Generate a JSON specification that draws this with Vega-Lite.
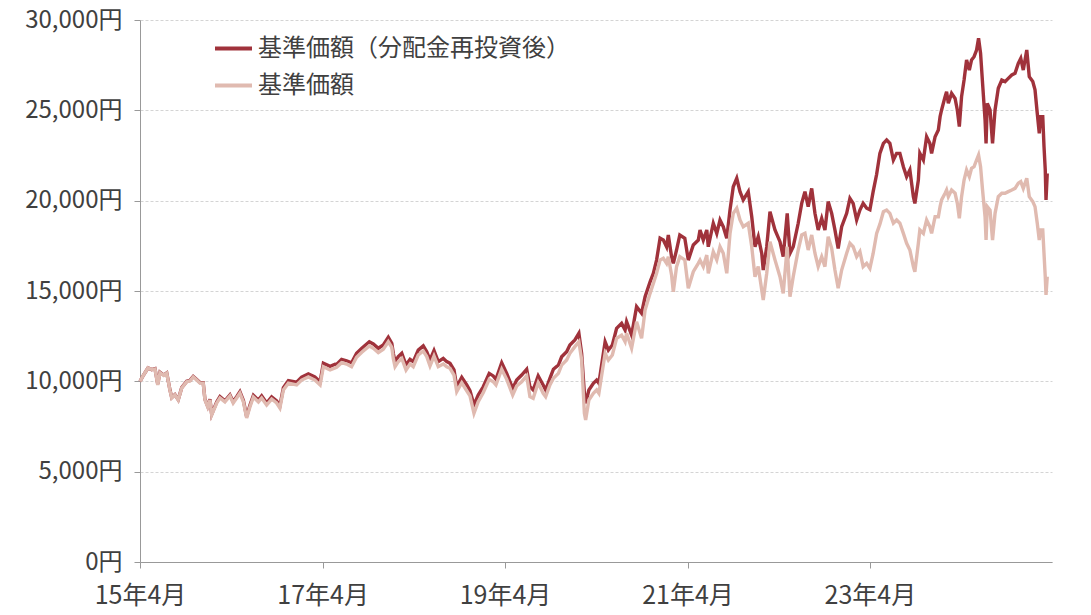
{
  "$schema": "https://vega.github.io/schema/vega-lite/v6.json",
  "width": 912,
  "height": 542,
  "autosize": {"type": "none"},
  "padding": {"left": 140, "top": 20, "right": 39, "bottom": 53},
  "background": "white",
  "config": {"view": {"stroke": null}, "font": "Noto Sans CJK JP"},
  "data": {"values": [
    {"d":"2015-04-01","a":10000,"b":10000},
    {"d":"2015-04-15","a":10350,"b":10350},
    {"d":"2015-05-03","a":10740,"b":10740},
    {"d":"2015-05-18","a":10650,"b":10650},
    {"d":"2015-05-31","a":10700,"b":10680},
    {"d":"2015-06-11","a":9850,"b":9800},
    {"d":"2015-06-20","a":10500,"b":10480},
    {"d":"2015-07-05","a":10350,"b":10330},
    {"d":"2015-07-17","a":10470,"b":10450},
    {"d":"2015-07-30","a":9520,"b":9500},
    {"d":"2015-08-06","a":9100,"b":9080},
    {"d":"2015-08-19","a":9270,"b":9250},
    {"d":"2015-09-01","a":8990,"b":8970},
    {"d":"2015-09-15","a":9650,"b":9630},
    {"d":"2015-10-05","a":10000,"b":9980},
    {"d":"2015-10-18","a":10050,"b":10020},
    {"d":"2015-10-31","a":10270,"b":10240},
    {"d":"2015-11-14","a":10100,"b":10070},
    {"d":"2015-11-27","a":9930,"b":9900},
    {"d":"2015-12-10","a":9930,"b":9900},
    {"d":"2015-12-17","a":9000,"b":8970},
    {"d":"2015-12-28","a":8620,"b":8580},
    {"d":"2016-01-06","a":9010,"b":8970},
    {"d":"2016-01-13","a":8180,"b":8140},
    {"d":"2016-02-02","a":8850,"b":8800},
    {"d":"2016-02-15","a":9150,"b":9080},
    {"d":"2016-03-06","a":8920,"b":8860},
    {"d":"2016-03-26","a":9250,"b":9190},
    {"d":"2016-04-08","a":8870,"b":8800},
    {"d":"2016-04-22","a":9150,"b":9080},
    {"d":"2016-05-05","a":9430,"b":9350},
    {"d":"2016-05-19","a":8940,"b":8860},
    {"d":"2016-06-01","a":8050,"b":7970},
    {"d":"2016-06-14","a":8670,"b":8580},
    {"d":"2016-06-28","a":9230,"b":9130},
    {"d":"2016-07-18","a":8960,"b":8860},
    {"d":"2016-07-31","a":9190,"b":9080},
    {"d":"2016-08-20","a":8800,"b":8690},
    {"d":"2016-09-09","a":9140,"b":9020},
    {"d":"2016-09-29","a":8920,"b":8800},
    {"d":"2016-10-12","a":8640,"b":8520},
    {"d":"2016-10-26","a":9650,"b":9520},
    {"d":"2016-11-15","a":10040,"b":9900},
    {"d":"2016-12-18","a":9950,"b":9800},
    {"d":"2017-01-07","a":10230,"b":10070},
    {"d":"2017-02-03","a":10410,"b":10240},
    {"d":"2017-03-01","a":10240,"b":10070},
    {"d":"2017-03-22","a":9980,"b":9800},
    {"d":"2017-04-04","a":11000,"b":10810},
    {"d":"2017-05-01","a":10830,"b":10630},
    {"d":"2017-05-21","a":10950,"b":10740},
    {"d":"2017-05-27","a":10940,"b":10780},
    {"d":"2017-06-16","a":11220,"b":11030},
    {"d":"2017-07-06","a":11140,"b":10960},
    {"d":"2017-07-26","a":11030,"b":10810},
    {"d":"2017-08-15","a":11550,"b":11330},
    {"d":"2017-09-05","a":11830,"b":11610},
    {"d":"2017-10-05","a":12190,"b":11960},
    {"d":"2017-10-21","a":12070,"b":11830},
    {"d":"2017-11-10","a":11830,"b":11590},
    {"d":"2017-11-30","a":12010,"b":11770},
    {"d":"2017-12-20","a":12440,"b":12190},
    {"d":"2018-01-03","a":12100,"b":11880},
    {"d":"2018-01-09","a":11550,"b":11270},
    {"d":"2018-01-16","a":11090,"b":10810},
    {"d":"2018-01-29","a":11370,"b":11090},
    {"d":"2018-02-12","a":11550,"b":11270},
    {"d":"2018-03-01","a":10900,"b":10630},
    {"d":"2018-03-17","a":11220,"b":10960},
    {"d":"2018-03-30","a":11090,"b":10810},
    {"d":"2018-04-19","a":11730,"b":11460},
    {"d":"2018-05-09","a":11960,"b":11680},
    {"d":"2018-05-23","a":11640,"b":11370},
    {"d":"2018-06-05","a":11180,"b":10850},
    {"d":"2018-06-21","a":11700,"b":11400},
    {"d":"2018-07-08","a":11090,"b":10810},
    {"d":"2018-07-28","a":11270,"b":10960},
    {"d":"2018-08-11","a":11090,"b":10810},
    {"d":"2018-08-24","a":11000,"b":10720},
    {"d":"2018-09-09","a":10630,"b":10350},
    {"d":"2018-09-20","a":9700,"b":9430},
    {"d":"2018-10-10","a":10220,"b":9920},
    {"d":"2018-10-30","a":9800,"b":9480},
    {"d":"2018-11-12","a":9480,"b":9190},
    {"d":"2018-11-28","a":8690,"b":8230},
    {"d":"2018-12-15","a":9240,"b":8870},
    {"d":"2019-01-04","a":9700,"b":9370},
    {"d":"2019-01-28","a":10440,"b":10110},
    {"d":"2019-02-13","a":10300,"b":9980},
    {"d":"2019-02-24","a":10110,"b":9800},
    {"d":"2019-03-19","a":11030,"b":10670},
    {"d":"2019-04-08","a":10440,"b":10110},
    {"d":"2019-05-02","a":9610,"b":9240},
    {"d":"2019-05-18","a":10070,"b":9740},
    {"d":"2019-06-07","a":10350,"b":9980},
    {"d":"2019-06-27","a":10670,"b":10300},
    {"d":"2019-07-10","a":9700,"b":9150},
    {"d":"2019-07-23","a":9520,"b":9060},
    {"d":"2019-08-12","a":10300,"b":9920},
    {"d":"2019-09-01","a":9800,"b":9340},
    {"d":"2019-09-11","a":9520,"b":9150},
    {"d":"2019-09-28","a":10170,"b":9800},
    {"d":"2019-10-12","a":10670,"b":10170},
    {"d":"2019-11-01","a":10900,"b":10440},
    {"d":"2019-11-14","a":11360,"b":10900},
    {"d":"2019-12-04","a":11640,"b":11180},
    {"d":"2019-12-17","a":12010,"b":11550},
    {"d":"2020-01-06","a":12290,"b":11920},
    {"d":"2020-01-22","a":12660,"b":12190},
    {"d":"2020-02-02","a":11550,"b":11180},
    {"d":"2020-02-13","a":9340,"b":8230},
    {"d":"2020-02-18","a":8780,"b":7860},
    {"d":"2020-03-02","a":9520,"b":8970},
    {"d":"2020-03-20","a":9890,"b":9340},
    {"d":"2020-04-02","a":10070,"b":9520},
    {"d":"2020-04-11","a":9890,"b":9340},
    {"d":"2020-05-06","a":12190,"b":11550},
    {"d":"2020-05-19","a":11730,"b":11180},
    {"d":"2020-06-04","a":12010,"b":11460},
    {"d":"2020-06-21","a":12930,"b":12380},
    {"d":"2020-07-11","a":13210,"b":12560},
    {"d":"2020-07-25","a":12840,"b":12200},
    {"d":"2020-07-31","a":13300,"b":12660},
    {"d":"2020-08-20","a":12560,"b":11830},
    {"d":"2020-09-09","a":14130,"b":13300},
    {"d":"2020-09-29","a":13770,"b":12380},
    {"d":"2020-10-13","a":14680,"b":13950},
    {"d":"2020-11-02","a":15510,"b":14870},
    {"d":"2020-11-15","a":15980,"b":15420},
    {"d":"2020-11-28","a":16710,"b":15980},
    {"d":"2020-12-12","a":17920,"b":16710},
    {"d":"2020-12-25","a":17820,"b":16810},
    {"d":"2021-01-07","a":17450,"b":16530},
    {"d":"2021-01-14","a":18100,"b":16900},
    {"d":"2021-01-27","a":16900,"b":15890},
    {"d":"2021-02-03","a":16530,"b":14960},
    {"d":"2021-02-16","a":17270,"b":16350},
    {"d":"2021-03-01","a":18100,"b":16900},
    {"d":"2021-03-21","a":17920,"b":16720},
    {"d":"2021-04-04","a":16710,"b":15150},
    {"d":"2021-04-24","a":17550,"b":16070},
    {"d":"2021-05-14","a":17820,"b":16530},
    {"d":"2021-05-21","a":18380,"b":16710},
    {"d":"2021-06-03","a":17820,"b":16350},
    {"d":"2021-06-17","a":18380,"b":16990},
    {"d":"2021-06-23","a":17450,"b":15980},
    {"d":"2021-07-13","a":18750,"b":17170},
    {"d":"2021-07-27","a":18190,"b":16720},
    {"d":"2021-08-09","a":18930,"b":17450},
    {"d":"2021-08-22","a":18560,"b":17090},
    {"d":"2021-09-05","a":17920,"b":15980},
    {"d":"2021-09-18","a":19490,"b":18190},
    {"d":"2021-10-01","a":20770,"b":19300},
    {"d":"2021-10-15","a":21240,"b":19580},
    {"d":"2021-10-28","a":20500,"b":18930},
    {"d":"2021-11-10","a":20040,"b":18560},
    {"d":"2021-11-30","a":20500,"b":18750},
    {"d":"2021-12-14","a":19110,"b":17450},
    {"d":"2021-12-27","a":17450,"b":15790},
    {"d":"2022-01-09","a":18010,"b":16350},
    {"d":"2022-01-23","a":17080,"b":15050},
    {"d":"2022-01-29","a":16160,"b":14500},
    {"d":"2022-02-12","a":17450,"b":15980},
    {"d":"2022-02-25","a":19390,"b":17730},
    {"d":"2022-03-17","a":18380,"b":16720},
    {"d":"2022-04-06","a":17730,"b":15790},
    {"d":"2022-04-19","a":16900,"b":14870},
    {"d":"2022-05-05","a":19300,"b":17450},
    {"d":"2022-05-16","a":17080,"b":14680},
    {"d":"2022-05-29","a":17450,"b":15790},
    {"d":"2022-06-18","a":18750,"b":17270},
    {"d":"2022-07-02","a":19850,"b":18100},
    {"d":"2022-07-15","a":20500,"b":18190},
    {"d":"2022-07-28","a":19670,"b":17270},
    {"d":"2022-08-11","a":20680,"b":18100},
    {"d":"2022-08-24","a":19300,"b":17090},
    {"d":"2022-09-06","a":18380,"b":16350},
    {"d":"2022-09-20","a":19020,"b":16900},
    {"d":"2022-10-03","a":18380,"b":16350},
    {"d":"2022-10-16","a":19950,"b":18010},
    {"d":"2022-10-30","a":19300,"b":17360},
    {"d":"2022-11-12","a":18380,"b":16160},
    {"d":"2022-11-25","a":17360,"b":15150},
    {"d":"2022-12-09","a":18560,"b":16160},
    {"d":"2022-12-29","a":19300,"b":17090},
    {"d":"2023-01-11","a":20130,"b":17640},
    {"d":"2023-01-24","a":19850,"b":17450},
    {"d":"2023-02-07","a":18930,"b":16900},
    {"d":"2023-02-20","a":19480,"b":17180},
    {"d":"2023-03-05","a":19850,"b":16350},
    {"d":"2023-03-19","a":19580,"b":16530},
    {"d":"2023-04-01","a":19500,"b":16250},
    {"d":"2023-04-14","a":20500,"b":17080},
    {"d":"2023-04-28","a":21460,"b":18190},
    {"d":"2023-05-11","a":22620,"b":18700},
    {"d":"2023-05-25","a":23170,"b":19390},
    {"d":"2023-06-07","a":23360,"b":19480},
    {"d":"2023-06-20","a":23170,"b":19300},
    {"d":"2023-07-04","a":22250,"b":18750},
    {"d":"2023-07-17","a":22620,"b":18930},
    {"d":"2023-07-30","a":22620,"b":18750},
    {"d":"2023-08-13","a":21880,"b":18190},
    {"d":"2023-08-26","a":21330,"b":17640},
    {"d":"2023-09-08","a":21700,"b":17270},
    {"d":"2023-09-22","a":20220,"b":16350},
    {"d":"2023-09-28","a":19850,"b":16070},
    {"d":"2023-10-12","a":21140,"b":17640},
    {"d":"2023-10-18","a":22620,"b":18380},
    {"d":"2023-11-01","a":22250,"b":18190},
    {"d":"2023-11-14","a":23540,"b":18930},
    {"d":"2023-11-27","a":23170,"b":18560},
    {"d":"2023-12-04","a":22620,"b":18190},
    {"d":"2023-12-18","a":23540,"b":19110},
    {"d":"2023-12-31","a":23910,"b":19110},
    {"d":"2024-01-07","a":24650,"b":19670},
    {"d":"2024-01-13","a":25020,"b":20040},
    {"d":"2024-01-27","a":25760,"b":20410},
    {"d":"2024-02-02","a":26030,"b":20590},
    {"d":"2024-02-09","a":25390,"b":20220},
    {"d":"2024-02-22","a":25940,"b":20590},
    {"d":"2024-03-07","a":25660,"b":20410},
    {"d":"2024-03-16","a":25020,"b":19850},
    {"d":"2024-03-24","a":24100,"b":19020},
    {"d":"2024-04-02","a":25760,"b":20220},
    {"d":"2024-04-12","a":26680,"b":21140},
    {"d":"2024-04-22","a":27790,"b":21700},
    {"d":"2024-05-03","a":27230,"b":21330},
    {"d":"2024-05-12","a":27790,"b":21790},
    {"d":"2024-05-22","a":27970,"b":21880},
    {"d":"2024-06-01","a":28340,"b":22250},
    {"d":"2024-06-09","a":28990,"b":22530},
    {"d":"2024-06-17","a":28160,"b":21880},
    {"d":"2024-06-25","a":26500,"b":20590},
    {"d":"2024-07-05","a":24470,"b":19110},
    {"d":"2024-07-09","a":23170,"b":17820},
    {"d":"2024-07-14","a":25390,"b":19670},
    {"d":"2024-07-25","a":25020,"b":19480},
    {"d":"2024-08-04","a":23170,"b":17820},
    {"d":"2024-08-14","a":25020,"b":19300},
    {"d":"2024-08-27","a":26220,"b":20220},
    {"d":"2024-09-10","a":26680,"b":20410},
    {"d":"2024-09-23","a":26590,"b":20410},
    {"d":"2024-10-06","a":26770,"b":20500},
    {"d":"2024-10-20","a":26960,"b":20590},
    {"d":"2024-11-02","a":27050,"b":20680},
    {"d":"2024-11-15","a":27600,"b":20960},
    {"d":"2024-11-25","a":27880,"b":21050},
    {"d":"2024-12-05","a":27230,"b":20680},
    {"d":"2024-12-19","a":28340,"b":21240},
    {"d":"2024-12-29","a":26860,"b":20220},
    {"d":"2025-01-12","a":26590,"b":19950},
    {"d":"2025-01-21","a":26130,"b":19670},
    {"d":"2025-01-30","a":24840,"b":18750},
    {"d":"2025-02-07","a":23730,"b":17820},
    {"d":"2025-02-13","a":24650,"b":18380},
    {"d":"2025-02-21","a":24650,"b":18380},
    {"d":"2025-02-26","a":23000,"b":17080},
    {"d":"2025-03-03","a":21700,"b":15790},
    {"d":"2025-03-06","a":20040,"b":14780},
    {"d":"2025-03-11","a":21510,"b":15790}
  ]},
  "encoding": {
    "x": {
      "field": "d",
      "type": "temporal",
      "scale": {
        "type": "utc",
        "nice": false,
        "domain": [
          {"year": 2015, "month": 4, "date": 1, "utc": true},
          {"year": 2025, "month": 3, "date": 30, "utc": true}
        ]
      },
      "axis": {
        "title": null,
        "grid": false,
        "format": "%y年%-m月",
        "values": [
          {"year": 2015, "month": 4, "date": 1, "utc": true},
          {"year": 2017, "month": 4, "date": 1, "utc": true},
          {"year": 2019, "month": 4, "date": 1, "utc": true},
          {"year": 2021, "month": 4, "date": 1, "utc": true},
          {"year": 2023, "month": 4, "date": 1, "utc": true}
        ],
        "labelFlush": false,
        "labelOverlap": false,
        "labelFontSize": 25,
        "labelColor": "#404040",
        "labelPadding": 15,
        "tickSize": 6,
        "tickColor": "#999999",
        "domainColor": "#999999"
      }
    }
  },
  "layer": [
    {
      "mark": {"type": "line", "strokeWidth": 3.4, "interpolate": "linear"},
      "encoding": {
        "y": {
          "field": "a",
          "type": "quantitative",
          "scale": {"domain": [0, 30000], "nice": false},
          "axis": {
            "title": null,
            "values": [0, 5000, 10000, 15000, 20000, 25000, 30000],
            "labelExpr": "format(datum.value, ',') + '円'",
            "labelFontSize": 24,
            "labelColor": "#404040",
            "labelPadding": 12,
            "tickSize": 6,
            "tickColor": "#999999",
            "domainColor": "#999999",
            "gridColor": "#d4d4d4",
            "gridDash": [3, 2],
            "gridWidth": 1
          }
        },
        "color": {
          "datum": "基準価額（分配金再投資後）",
          "scale": {
            "domain": ["基準価額（分配金再投資後）", "基準価額"],
            "range": ["#A0323B", "#E0BAB0"]
          },
          "legend": {
            "title": null,
            "orient": "none",
            "legendX": 73,
            "legendY": 8,
            "symbolType": "stroke",
            "symbolSize": 1369,
            "symbolStrokeWidth": 4,
            "labelFontSize": 24,
            "labelColor": "#404040",
            "labelOffset": 4,
            "labelLimit": 0,
            "rowPadding": 4
          }
        }
      }
    },
    {
      "mark": {"type": "line", "strokeWidth": 3.4, "interpolate": "linear"},
      "encoding": {
        "y": {"field": "b", "type": "quantitative"},
        "color": {"datum": "基準価額"}
      }
    }
  ]
}
